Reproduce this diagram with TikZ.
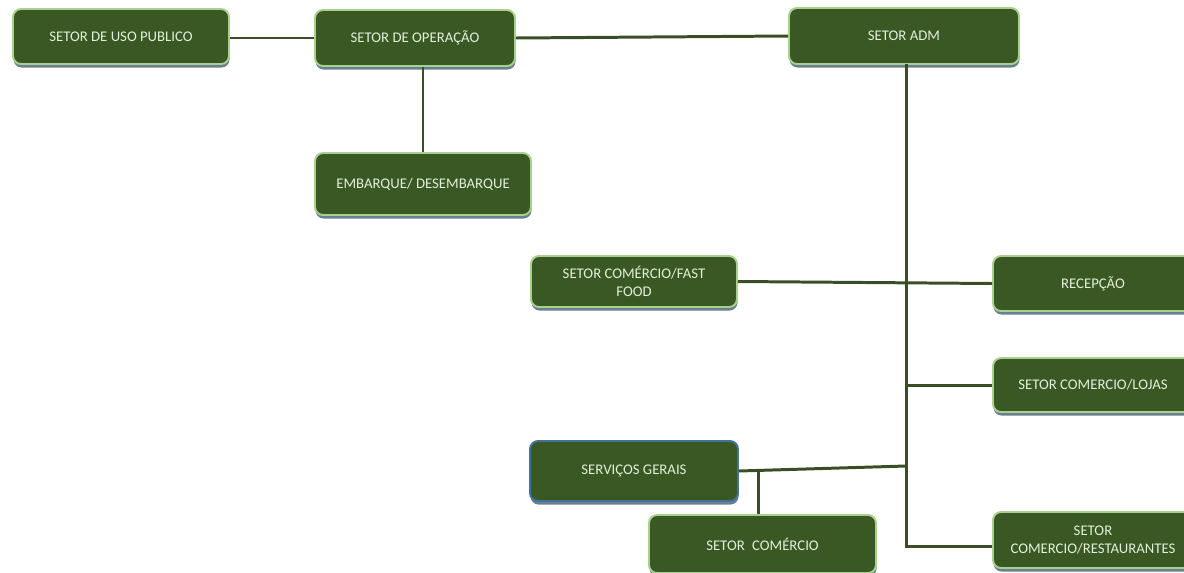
\documentclass[tikz,border=0pt]{standalone}
\usepackage{fontspec}
\setmainfont{Carlito}
\usetikzlibrary{shadows}
\definecolor{boxfill}{RGB}{58,88,35}
\definecolor{boxborder}{RGB}{169,209,142}
\definecolor{boxtext}{RGB}{226,239,218}
\definecolor{shadowc}{RGB}{105,128,145}
\definecolor{linkc}{RGB}{58,78,38}
\definecolor{blueborder}{RGB}{65,113,156}
\tikzset{
  box/.style={draw=boxborder, line width=1.1pt, fill=boxfill, rounded corners=0.16cm,
    text=boxtext, font=\fontsize{8.4}{10}\selectfont, align=center, inner sep=2pt,
    drop shadow={shadow xshift=0.3pt, shadow yshift=-2pt, fill=shadowc, opacity=1}},
  link/.style={draw=linkc, line width=1.7pt}
}
\begin{document}
\begin{tikzpicture}[x=0.02cm, y=-0.02cm]
\useasboundingbox (0,0) rectangle (1184,572);
\clip (0,0) rectangle (1184,572);
\node[box, minimum width=4.32cm, minimum height=1.1cm] (uso) at (121,36.5) {SETOR DE USO PUBLICO};
\node[box, minimum width=4.0cm, minimum height=1.12cm] (oper) at (415,38) {SETOR DE OPERAÇÃO};
\node[box, minimum width=4.6cm, minimum height=1.12cm] (adm) at (904,36) {SETOR ADM};
\node[box, minimum width=4.32cm, minimum height=1.24cm] (emb) at (423,184) {EMBARQUE/ DESEMBARQUE};
\node[box, minimum width=4.12cm, minimum height=1.02cm] (fast) at (634,281.5) {SETOR COMÉRCIO/FAST\\FOOD};
\node[box, minimum width=4.0cm, minimum height=1.1cm] (recep) at (1093,283.5) {RECEPÇÃO};
\node[box, minimum width=4.0cm, minimum height=1.08cm] (lojas) at (1093,385) {SETOR COMERCIO/LOJAS};
\node[box, draw=blueborder, minimum width=4.16cm, minimum height=1.2cm] (serv) at (634,471) {SERVIÇOS GERAIS};
\node[box, minimum width=4.54cm, minimum height=1.16cm] (comer) at (762.5,544) {SETOR\enspace COMÉRCIO};
\node[box, minimum width=4.0cm, minimum height=1.12cm] (rest) at (1093,540) {SETOR\\COMERCIO/RESTAURANTES};
% connectors
\coordinate (spinetop) at (906,64);
\coordinate (corner) at (906,546);
\coordinate (servj) at (906,466);
\coordinate (drop) at (758,470);
\draw[link] (uso.east |- oper.west) -- (oper.west);
\draw[link] (oper.east) -- (adm.west);
\draw[link] (emb.north |- oper.south) -- (emb.north);
\draw[link] (spinetop) -- (corner) -- (rest.west |- corner);
\draw[link] (fast.east) -- (recep.west);
\draw[link] (spinetop |- lojas.west) -- (lojas.west);
\draw[link] (serv.east) -- (servj);
\draw[link] (drop) -- (drop |- comer.north);
\end{tikzpicture}
\end{document}
